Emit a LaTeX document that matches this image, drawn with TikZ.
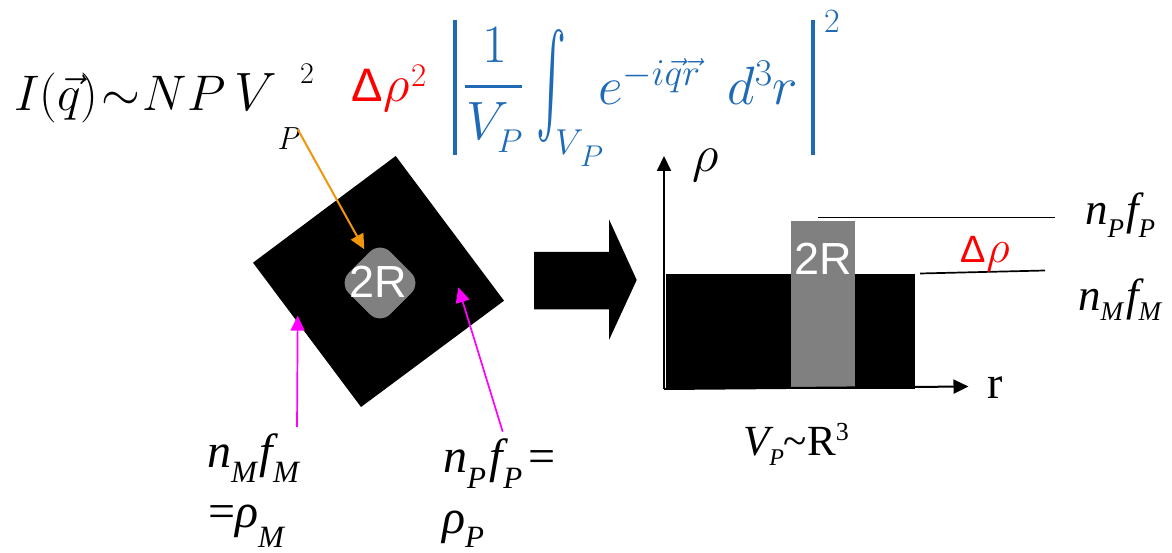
\RequirePackage{fix-cm}
\documentclass[tikz,border=0pt]{standalone}
\usepackage{graphicx}
\usepackage{fontspec}
\newfontfamily\tnr{Liberation Serif}
\newfontfamily\arial{Liberation Sans}
\usetikzlibrary{arrows.meta}
\definecolor{fblue}{RGB}{30,106,182}
\definecolor{forange}{RGB}{240,150,10}
\definecolor{fmag}{RGB}{255,0,255}
\definecolor{fgray}{RGB}{128,128,128}
\newcommand\fsz[1]{\fontsize{#1}{#1}\selectfont}
\newcommand\lowsub[3]{\raisebox{-#1pt}{\fsz{#2}#3}}
\begin{document}
\begin{tikzpicture}[x=1pt,y=-1pt,
  txt/.style={inner sep=0pt, outer sep=0pt, anchor=base west},
  ptr/.style={line width=2pt, -{Triangle[length=15pt,width=14pt]}},
  axis/.style={line width=2pt, -{Triangle[length=15pt,width=14pt]}},
  level/.style={line width=1.7pt},
  bar/.style={fblue, line width=4pt}]
\useasboundingbox (0,0) rectangle (1172,553);

% ---------- formula ----------
\node[txt,font=\fsz{50}] (f1) at (14,111) {$I(\vec{q})\mkern1mu{\sim}\mkern1mu NP$};
\node[txt,font=\fsz{54}] (f2) at (234,111) {$V$};
\node[txt,font=\fsz{32}\itshape] (f3) at (277,150) {P};
\node[txt,font=\fsz{30}] (f4) at (300,84) {2};

\node[txt,font=\fsz{52},text=red] (d1) at (351,102) {{\arial\fsz{47}Δ}\kern1pt$\rho$};
\node[txt,font=\fsz{33},text=red] (d2) at (411,87) {$2$};

\coordinate (lbt) at (455,20); \coordinate (lbb) at (455,155);
\draw[bar] (lbt) -- (lbb);
\node[txt,font=\fsz{54},text=fblue] (b1) at (482,63) {$1$};
\coordinate (fl) at (465,87); \coordinate (fr) at (522,87);
\draw[fblue,line width=3pt] (fl) -- (fr);
\node[txt,font=\fsz{54},text=fblue] (b2) at (466,140) {$V$};
\node[txt,font=\fsz{33},text=fblue] (b3) at (497,153) {$P$};
\node[text=fblue,inner sep=0pt] (b4) at (551,86.5) {\resizebox*{30pt}{113pt}{$\textstyle\int$}};
\node[txt,font=\fsz{36},text=fblue] (b5) at (555,155) {$V$};
\node[txt,font=\fsz{30},text=fblue] (b6) at (580,167) {$P$};
\node[txt,font=\fsz{54},text=fblue] (b7) at (598,105) {$e^{-i\vec{q}\vec{r}}\mkern9mu d^3r$};
\coordinate (rbt) at (812.7,20); \coordinate (rbb) at (812.7,155);
\draw[bar] (rbt) -- (rbb);
\node[txt,font=\fsz{34},text=fblue] (b8) at (824,33) {$2$};

% ---------- left particle picture ----------
\fill[black] (395.7,156) -- (504,300.7) -- (361,407) -- (253,262.7) -- cycle;
\fill[fgray, rounded corners=14pt] (380,241.7) -- (421.3,283) -- (380,324.3) -- (338.7,283) -- cycle;
\node[font=\arial\fsz{45},text=white,inner sep=0pt] (c2r) at (378,282) {2R};

\coordinate (oS) at (297.7,129.3); \coordinate (oE) at (364.3,249.3);
\draw[ptr,forange] (oS) -- (oE);

\node[txt,font=\tnr\fsz{48}] (lm1) at (207,467) {\itshape n\lowsub{15}{31}{M}\kern3pt f\lowsub{15}{31}{M}};
\node[txt,font=\tnr\fsz{48}] (lm2) at (208,527) {=\itshape ρ\lowsub{20}{31}{M}};
\node[txt,font=\tnr\fsz{48}] (lp1) at (443,472) {\itshape n\lowsub{16}{31}{P}\kern4pt f\lowsub{16}{31}{P}\upshape\kern6pt=};
\node[txt,font=\tnr\fsz{48}] (lp2) at (442,533) {\itshape ρ\lowsub{14}{31}{P}};

\coordinate (mS) at (297,427); \coordinate (mE) at (297.7,315.7);
\draw[ptr,fmag,line width=1.7pt] (mS) -- (mE);
\coordinate (pS) at (502.7,431.7); \coordinate (pE) at (458.3,287.3);
\draw[ptr,fmag,line width=1.7pt] (pS) -- (pE);

% ---------- block arrow ----------
\fill[black] (534,252) -- (609,252) -- (609,219.3) -- (636.7,280) -- (609,340) -- (609,309.3) -- (534,309.3) -- cycle;

% ---------- right profile ----------
\fill[black] (665.5,274) rectangle (915,389);
\fill[fgray] (791,221) rectangle (855,387.5);
\node[font=\arial\fsz{45},text=white,inner sep=0pt] (g2r) at (823,258.6) {2R};

\coordinate (org) at (664,389);
\coordinate (ytip) at (664,156);
\coordinate (xtip) at (968.5,386.5);
\draw[axis] (org) -- (ytip);
\draw[axis] (org) -- (xtip);
\node[txt,font=\fsz{52}] (rho) at (692,172) {$\rho$};
\node[txt,font=\tnr\fsz{46}] (rr) at (987,398) {r};

\coordinate (l1a) at (818,217.5); \coordinate (l1b) at (1055,217.5);
\draw[level] (l1a) -- (l1b);
\coordinate (l2a) at (920,273.5); \coordinate (l2b) at (1045,270.5);
\draw[level] (l2a) -- (l2b);
\node[txt,font=\fsz{46},text=red] (dr) at (960,263) {{\arial\fsz{38}Δ}\kern1pt$\rho$};

\node[txt,font=\tnr\fsz{45}] (np) at (1085,225) {\itshape n\lowsub{13}{27}{P}\kern2pt f\lowsub{13}{27}{P}};
\node[txt,font=\tnr\fsz{45}] (nm) at (1078,310) {\itshape n\lowsub{10}{27}{M}\kern3pt f\lowsub{10}{27}{M}};

\node[txt,font=\tnr\fsz{43}] (vp) at (743,455) {\itshape V\lowsub{10}{24}{P}\upshape\textasciitilde R\raisebox{15pt}{\fsz{26}3}};
\end{tikzpicture}
\end{document}
